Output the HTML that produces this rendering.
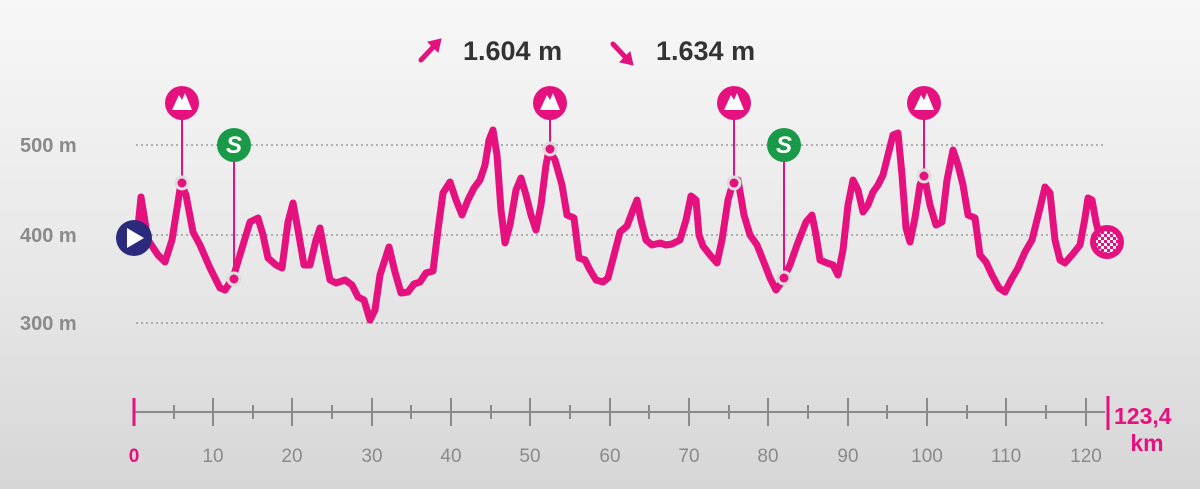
<!DOCTYPE html>
<html><head><meta charset="utf-8"><style>
html,body{margin:0;padding:0;width:1200px;height:489px;overflow:hidden;}
body{background:linear-gradient(#f7f7f7,#e6e6e6 60%,#d6d6d6);font-family:"Liberation Sans",sans-serif;}
</style></head><body>
<svg width="1200" height="489" viewBox="0 0 1200 489" xmlns="http://www.w3.org/2000/svg" font-family="Liberation Sans, sans-serif">
<g stroke="#9a9a9a" stroke-width="1.5" stroke-dasharray="2 3">
<line x1="136" y1="145" x2="1105" y2="145"/><line x1="136" y1="235" x2="1105" y2="235"/><line x1="136" y1="323" x2="1105" y2="323"/>
</g>
<g fill="#8a8a8a" font-weight="bold" font-size="20">
<text x="20" y="152">500 m</text><text x="20" y="242">400 m</text><text x="20" y="330">300 m</text>
</g>
<g font-weight="bold" font-size="27" fill="#333">
<text x="463" y="60">1.604 m</text><text x="656" y="60">1.634 m</text>
</g>
<g stroke="#e5117f" stroke-width="5" stroke-linecap="round" fill="#e5117f">
<line x1="421" y1="60" x2="436" y2="44"/><polygon points="441,39 428,42 438,52" stroke-width="1"/>
<line x1="613" y1="44" x2="628" y2="60"/><polygon points="633,65 620,62 630,52" stroke-width="1"/>
</g>
<g stroke="#e5117f" stroke-width="2">
<line x1="182" y1="110" x2="182" y2="183"/><line x1="550" y1="110" x2="550" y2="149"/>
<line x1="734" y1="110" x2="734" y2="183"/><line x1="924" y1="110" x2="924" y2="176"/>
<line x1="234" y1="150" x2="234" y2="279"/><line x1="784" y1="150" x2="784" y2="278"/>
</g>
<path fill="none" stroke="#e5117f" stroke-width="7" stroke-linejoin="round" stroke-linecap="round" d="M137,237 L141,197 148,240 158,255 165,262 172,240 181,183 186,195 193,232 200,245 210,268 220,288 225,290 233,278 243,245 250,222 258,218 263,235 268,258 276,265 282,268 288,222 293,203 298,230 304,265 310,265 316,240 320,228 325,255 330,280 336,283 345,280 352,285 358,297 364,300 370,320 375,310 380,275 389,247 395,272 401,293 408,292 414,284 420,282 426,273 433,271 438,230 443,193 450,182 456,200 462,215 468,200 474,188 480,180 485,165 489,140 493,130 497,155 501,210 505,243 510,225 516,190 521,178 526,195 531,215 536,230 541,205 546,165 549,150 555,160 562,185 567,215 574,218 579,258 585,260 590,270 596,280 603,282 608,278 614,255 620,232 627,226 633,210 637,200 641,220 646,240 652,245 660,243 666,245 672,244 680,240 686,220 691,196 696,200 699,235 703,246 710,255 717,263 722,240 728,200 733,183 738,180 744,215 750,235 757,245 763,260 770,278 776,290 781,283 790,265 797,245 806,222 812,215 816,235 820,260 827,263 833,265 838,275 843,250 848,205 853,180 858,190 863,212 868,205 873,192 878,185 883,175 888,155 893,135 898,133 902,175 906,228 910,242 915,218 920,185 924,175 930,205 936,225 942,222 947,180 953,150 958,165 963,185 968,215 975,218 980,255 986,262 992,275 999,288 1005,292 1011,280 1018,268 1025,252 1032,240 1040,208 1045,187 1050,193 1055,240 1060,260 1065,263 1072,255 1080,245 1085,218 1088,198 1092,200 1096,222 1100,238 1107,241"/>
<g fill="#e5117f" stroke="#ddd" stroke-width="3">
<circle cx="182" cy="183" r="6"/><circle cx="550" cy="149" r="6"/><circle cx="734" cy="183" r="6"/><circle cx="924" cy="176" r="6"/>
<circle cx="234" cy="279" r="6"/><circle cx="784" cy="278" r="6"/>
</g>
<g id="kom">
<circle cx="182" cy="103" r="17" fill="#e5117f"/>
</g>
<circle cx="550" cy="103" r="17" fill="#e5117f"/><circle cx="734" cy="103" r="17" fill="#e5117f"/><circle cx="924" cy="103" r="17" fill="#e5117f"/>
<g fill="#fff">
<polygon points="172,110 179,95 182,100 185,93 192,110"/>
<polygon points="540,110 547,95 550,100 553,93 560,110"/>
<polygon points="724,110 731,95 734,100 737,93 744,110"/>
<polygon points="914,110 921,95 924,100 927,93 934,110"/>
</g>
<circle cx="234" cy="145" r="17" fill="#189a48"/><circle cx="784" cy="145" r="17" fill="#189a48"/>
<g fill="#fff" font-weight="bold" font-style="italic" font-size="24" text-anchor="middle">
<text x="234" y="153">S</text><text x="784" y="153">S</text>
</g>
<circle cx="134" cy="238" r="18" fill="#2c2a7c"/>
<polygon points="127,228 127,248 144,238" fill="#fff"/>
<defs><pattern id="chk" width="6" height="6" patternUnits="userSpaceOnUse"><rect width="6" height="6" fill="#fff"/><rect width="3" height="3" fill="#e5117f"/><rect x="3" y="3" width="3" height="3" fill="#e5117f"/></pattern></defs>
<circle cx="1107" cy="242" r="17" fill="#e5117f"/>
<circle cx="1107" cy="242" r="11" fill="url(#chk)"/>
<g stroke="#8a8a8a" stroke-width="2">
<line x1="134" y1="412" x2="1105" y2="412"/>
<line x1="213" y1="398" x2="213" y2="426"/><line x1="292" y1="398" x2="292" y2="426"/><line x1="372" y1="398" x2="372" y2="426"/><line x1="451" y1="398" x2="451" y2="426"/><line x1="530" y1="398" x2="530" y2="426"/><line x1="610" y1="398" x2="610" y2="426"/><line x1="689" y1="398" x2="689" y2="426"/><line x1="768" y1="398" x2="768" y2="426"/><line x1="848" y1="398" x2="848" y2="426"/><line x1="927" y1="398" x2="927" y2="426"/><line x1="1006" y1="398" x2="1006" y2="426"/><line x1="1086" y1="398" x2="1086" y2="426"/>
<line x1="174" y1="405" x2="174" y2="419"/><line x1="253" y1="405" x2="253" y2="419"/><line x1="332" y1="405" x2="332" y2="419"/><line x1="411" y1="405" x2="411" y2="419"/><line x1="491" y1="405" x2="491" y2="419"/><line x1="570" y1="405" x2="570" y2="419"/><line x1="649" y1="405" x2="649" y2="419"/><line x1="729" y1="405" x2="729" y2="419"/><line x1="808" y1="405" x2="808" y2="419"/><line x1="887" y1="405" x2="887" y2="419"/><line x1="967" y1="405" x2="967" y2="419"/><line x1="1046" y1="405" x2="1046" y2="419"/>
</g>
<g stroke="#e5117f" stroke-width="3"><line x1="134" y1="398" x2="134" y2="426"/><line x1="1108" y1="396" x2="1108" y2="430"/></g>
<g fill="#8a8a8a" font-size="19" text-anchor="middle">
<text x="213" y="462">10</text><text x="292" y="462">20</text><text x="372" y="462">30</text><text x="451" y="462">40</text><text x="530" y="462">50</text><text x="610" y="462">60</text><text x="689" y="462">70</text><text x="768" y="462">80</text><text x="848" y="462">90</text><text x="927" y="462">100</text><text x="1006" y="462">110</text><text x="1086" y="462">120</text>
</g>
<g fill="#e5117f" font-weight="bold">
<text x="134" y="462" font-size="19" text-anchor="middle">0</text>
<text x="1114" y="424" font-size="23">123,4</text>
<text x="1147" y="451" font-size="23" text-anchor="middle">km</text>
</g>
</svg>
</body></html>
